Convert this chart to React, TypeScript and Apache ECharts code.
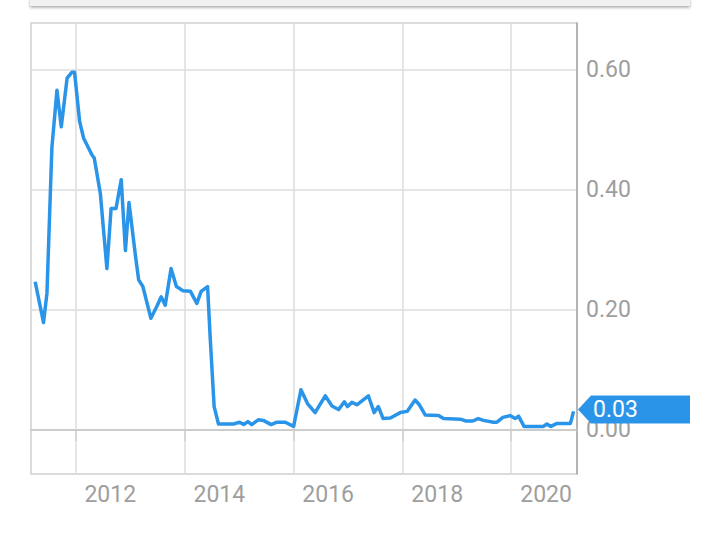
import React, { useEffect, useRef } from "react";
import * as echarts from "echarts";

const dates: string[] = [
  "2011-04-06", "2011-06-01", "2011-06-24", "2011-07-27", "2011-08-30", "2011-09-28",
  "2011-11-06", "2011-12-09", "2011-12-26", "2012-01-29", "2012-02-25", "2012-04-21",
  "2012-05-06", "2012-06-16", "2012-07-30", "2012-08-27", "2012-09-29", "2012-11-03",
  "2012-12-01", "2012-12-25", "2013-02-07", "2013-02-28", "2013-03-28", "2013-05-21",
  "2013-06-30", "2013-07-29", "2013-08-25", "2013-10-03", "2013-11-08", "2013-12-22",
  "2014-02-10", "2014-03-25", "2014-04-23", "2014-06-05", "2014-06-22", "2014-07-19",
  "2014-08-17", "2014-11-27", "2015-01-06", "2015-02-02", "2015-03-02", "2015-03-28",
  "2015-05-11", "2015-06-14", "2015-08-05", "2015-09-13", "2015-11-08", "2016-01-03",
  "2016-02-21", "2016-04-05", "2016-05-26", "2016-08-02", "2016-09-16", "2016-10-30",
  "2016-12-08", "2016-12-29", "2017-01-28", "2017-03-02", "2017-05-18", "2017-06-26",
  "2017-07-24", "2017-08-25", "2017-10-12", "2017-12-18", "2018-02-02", "2018-03-27",
  "2018-04-25", "2018-06-03", "2018-09-01", "2018-10-04", "2019-01-24", "2019-03-04",
  "2019-04-18", "2019-05-25", "2019-06-28", "2019-09-04", "2019-09-27", "2019-11-06",
  "2019-12-24", "2020-01-27", "2020-02-19", "2020-03-27", "2020-08-04", "2020-08-27",
  "2020-09-23", "2020-11-03", "2021-02-01", "2021-02-22",
];

const values: number[] = [
  0.247, 0.179, 0.228, 0.47, 0.566, 0.505,
  0.586, 0.596, 0.596, 0.514, 0.486, 0.458,
  0.453, 0.394, 0.269, 0.369, 0.369, 0.417,
  0.299, 0.379, 0.289, 0.25, 0.239, 0.186,
  0.206, 0.222, 0.208, 0.269, 0.239, 0.232,
  0.231, 0.211, 0.231, 0.239, 0.156, 0.039,
  0.01, 0.01, 0.013, 0.009, 0.014, 0.009,
  0.017, 0.016, 0.009, 0.013, 0.013, 0.006,
  0.067, 0.044, 0.029, 0.057, 0.04, 0.034,
  0.047, 0.039, 0.046, 0.042, 0.057, 0.029,
  0.039, 0.019, 0.02, 0.029, 0.031, 0.05,
  0.042, 0.025, 0.024, 0.019, 0.018, 0.015,
  0.015, 0.019, 0.016, 0.013, 0.013, 0.021,
  0.024, 0.019, 0.023, 0.006, 0.006, 0.01,
  0.006, 0.011, 0.011, 0.031,
];

const xTickDates: string[] = ["2012-01-01", "2014-01-01", "2016-01-01", "2018-01-01", "2020-01-01"];
const yTicks: number[] = [0, 0.2, 0.4, 0.6];
const xMin = "2011-03-09";
const xMax = "2021-03-17";
const yMin = -0.0733;
const yMax = 0.678;

const LINE_COLOR = "#2a95e8";
const LABEL_COLOR = "#9e9e9e";
const FONT = "Roboto";

const ts = (d: string) => Date.UTC(+d.slice(0, 4), +d.slice(5, 7) - 1, +d.slice(8, 10));

export default function App() {
  const ref = useRef<HTMLDivElement>(null);

  useEffect(() => {
    if (!ref.current) return;
    const chart = echarts.init(ref.current, undefined, { renderer: "svg" });
    const xTicks = xTickDates.map(ts);
    const data = dates.map((d, i) => [ts(d), values[i]]);

    chart.setOption({
      animation: false,
      backgroundColor: "#ffffff",
      grid: {
        left: 31,
        top: 23,
        right: 143,
        bottom: 78,
        show: true,
        borderColor: "#cfcfcf",
        borderWidth: 1.5,
        containLabel: false,
        outerBoundsMode: "none",
      },
      xAxis: {
        type: "value",
        min: ts(xMin),
        max: ts(xMax),
        axisLine: { show: true, lineStyle: { color: "#c4c4c4", width: 1.5 } },
        axisTick: {
          show: true,
          customValues: xTicks,
          length: 11,
          lineStyle: { color: "#cfcfcf", width: 1.5 },
        },
        axisLabel: {
          customValues: xTicks,
          formatter: (v: number) => String(new Date(v).getUTCFullYear()),
          color: LABEL_COLOR,
          fontSize: 23,
          fontFamily: FONT,
          align: "left",
          padding: [0, 0, 0, 9],
          margin: 9,
          showMinLabel: true,
          showMaxLabel: true,
        },
        splitLine: { show: true, lineStyle: { color: "#dcdcdc", width: 1.5 } },
      },
      yAxis: {
        type: "value",
        position: "right",
        min: yMin,
        max: yMax,
        axisLine: { show: true, lineStyle: { color: "#a8a8a8", width: 1.5 } },
        axisTick: { show: false, customValues: yTicks },
        axisLabel: {
          customValues: yTicks,
          formatter: (v: number) => v.toFixed(2),
          color: LABEL_COLOR,
          fontSize: 23,
          fontFamily: FONT,
          margin: 9,
        },
        splitLine: { show: true, lineStyle: { color: "#dcdcdc", width: 1.5 } },
      },
      series: [
        {
          type: "line",
          data,
          symbol: "none",
          lineStyle: { color: LINE_COLOR, width: 3.5, join: "round" },
          itemStyle: { color: LINE_COLOR },
          z: 5,
        },
      ],
    });

    const last = data[data.length - 1];
    const pt = chart.convertToPixel({ xAxisIndex: 0, yAxisIndex: 0 }, last) as number[];
    const edge = chart.convertToPixel({ xAxisIndex: 0 }, ts(xMax)) as number;
    const tipX = edge + 1;
    const y = pt[1] - 2;
    chart.setOption({
      graphic: [
        {
          type: "rect",
          shape: { x: 30, y: -2, width: 660, height: 8 },
          style: {
            fill: "#f1f1f1",
            shadowBlur: 3,
            shadowOffsetY: 1.5,
            shadowColor: "rgba(0,0,0,0.35)",
          },
          z: 100,
        },
        {
          type: "polygon",
          shape: {
            points: [
              [tipX, y],
              [tipX + 13, y - 14],
              [690, y - 14],
              [690, y + 14],
              [tipX + 13, y + 14],
            ],
          },
          style: { fill: LINE_COLOR },
          z: 100,
        },
        {
          type: "text",
          x: tipX + 15,
          y: y,
          style: {
            text: (last[1] as number).toFixed(2),
            fill: "#ffffff",
            fontSize: 23,
            fontFamily: FONT,
            verticalAlign: "middle",
          },
          z: 101,
        },
      ],
    });

    return () => chart.dispose();
  }, []);

  return (
    <div
      ref={ref}
      style={{ position: "fixed", left: 0, top: 0, width: 720, height: 552 }}
    />
  );
}
